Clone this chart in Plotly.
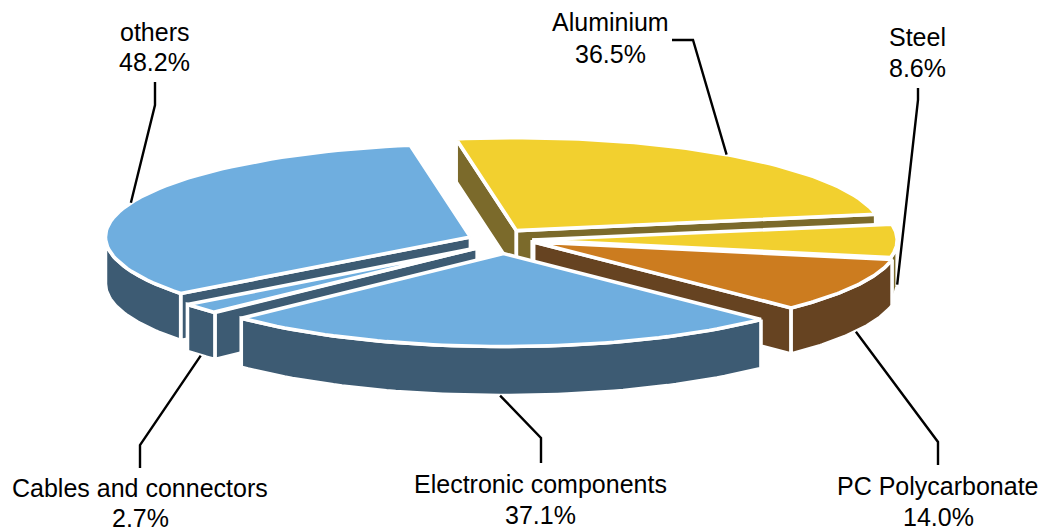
import math
import plotly.graph_objects as go

# ---- data (clockwise from the top of the pie) ----
categories = ["Aluminium", "Steel", "PC Polycarbonate", "Electronic components", "Cables and connectors", "others"]
values = [36.5, 8.6, 14.0, 37.1, 2.7, 48.2]

# ---- styling / layout ----
top_colors = ["#F2D02F", "#F2D02F", "#CC7C1F", "#6FAEDF", "#6FAEDF", "#6FAEDF"]
side_colors = ["#7B6A2B", "#7B6A2B", "#664321", "#3D5B73", "#3D5B73", "#3D5B73"]
explode = [0.097, 0.08, 0.092, 0.146, 0.097, 0.09]
nudge_x = [-2, 5, 6, 6, 6, 3]
nudge_y = [-2, 0, -2, 0, 2, 0]
depths = [43, 44, 46, 49, 47, 47]
paint_order = [0, 5, 1, 4, 2, 3]
START, CX, CY, RX, RY = -9.5, 498, 240, 365, 93
BORDER = 3.6
label_x = [610, 917, 938, 540, 140, 154]
name_y = [22, 37, 486, 484, 488, 32]
pct_y = [54, 68, 517, 515, 518, 62]
elbows = [[(693, 40), (672, 40)], [(918, 100), (918, 88)], [(938, 442), (938, 465)],
          [(541, 438), (541, 463)], [(140, 445), (140, 468)], [(155, 105), (155, 82)]]

total = sum(values)
slices = []
cum = START
for i, v in enumerate(values):
    span = v / total * 360
    t0, t1 = cum, cum + span
    cum = t1
    mid = math.radians((t0 + t1) / 2)
    ax = CX + nudge_x[i] + explode[i] * RX * math.sin(mid)
    ay = CY + nudge_y[i] - explode[i] * RY * math.cos(mid)
    slices.append(dict(t0=t0, t1=t1, ax=ax, ay=ay))


def rim(s, deg, d=0):
    r = math.radians(deg)
    return s["ax"] + RX * math.sin(r), s["ay"] - RY * math.cos(r) + d


def arc(s, a, b, d=0, n=60):
    return [rim(s, a + (b - a) * k / n, d) for k in range(n + 1)]


fig = go.Figure()


def poly(pts, color):
    fig.add_trace(go.Scatter(
        x=[p[0] for p in pts] + [pts[0][0]], y=[p[1] for p in pts] + [pts[0][1]],
        mode="lines", fill="toself", fillcolor=color,
        line=dict(color="white", width=BORDER), hoverinfo="skip", showlegend=False))


for i in paint_order:
    s = slices[i]
    D = depths[i]
    A = (s["ax"], s["ay"])
    Ad = (s["ax"], s["ay"] + D)
    if math.sin(math.radians(s["t0"])) < 0:
        poly([A, rim(s, s["t0"]), rim(s, s["t0"], D), Ad], side_colors[i])
    if math.sin(math.radians(s["t1"])) > 0:
        poly([A, rim(s, s["t1"]), rim(s, s["t1"], D), Ad], side_colors[i])
    a, b = max(s["t0"], 90), min(s["t1"], 270)
    if b > a:
        poly(arc(s, a, b) + arc(s, b, a, D), side_colors[i])
    poly([A] + arc(s, s["t0"], s["t1"]), top_colors[i])

# leader lines start on the slice edge at its mid-angle
for i, s in enumerate(slices):
    m = (s["t0"] + s["t1"]) / 2
    d = depths[i] if math.cos(math.radians(m)) < 0 else 0
    pts = [rim(s, m, d)] + elbows[i]
    fig.add_trace(go.Scatter(x=[p[0] for p in pts], y=[p[1] for p in pts], mode="lines",
                             line=dict(color="black", width=2.4), hoverinfo="skip", showlegend=False))

for i, c in enumerate(categories):
    for txt, yy in ((c, name_y[i]), (f"{values[i]:.1f}%", pct_y[i])):
        fig.add_annotation(x=label_x[i], y=yy, xref="x", yref="y", text=txt, showarrow=False,
                           xanchor="center", yanchor="middle", align="center",
                           font=dict(family="Liberation Sans", size=25, color="black"))

fig.update_layout(
    width=1047, height=531, margin=dict(l=0, r=0, t=0, b=0), paper_bgcolor="white", plot_bgcolor="white",
    xaxis=dict(range=[0, 1047], visible=False, fixedrange=True),
    yaxis=dict(range=[531, 0], visible=False, fixedrange=True),
    showlegend=False)

fig.write_html("out.html", config={"displayModeBar": False},
               post_script="document.body.style.margin='0';document.body.style.overflow='hidden';")
